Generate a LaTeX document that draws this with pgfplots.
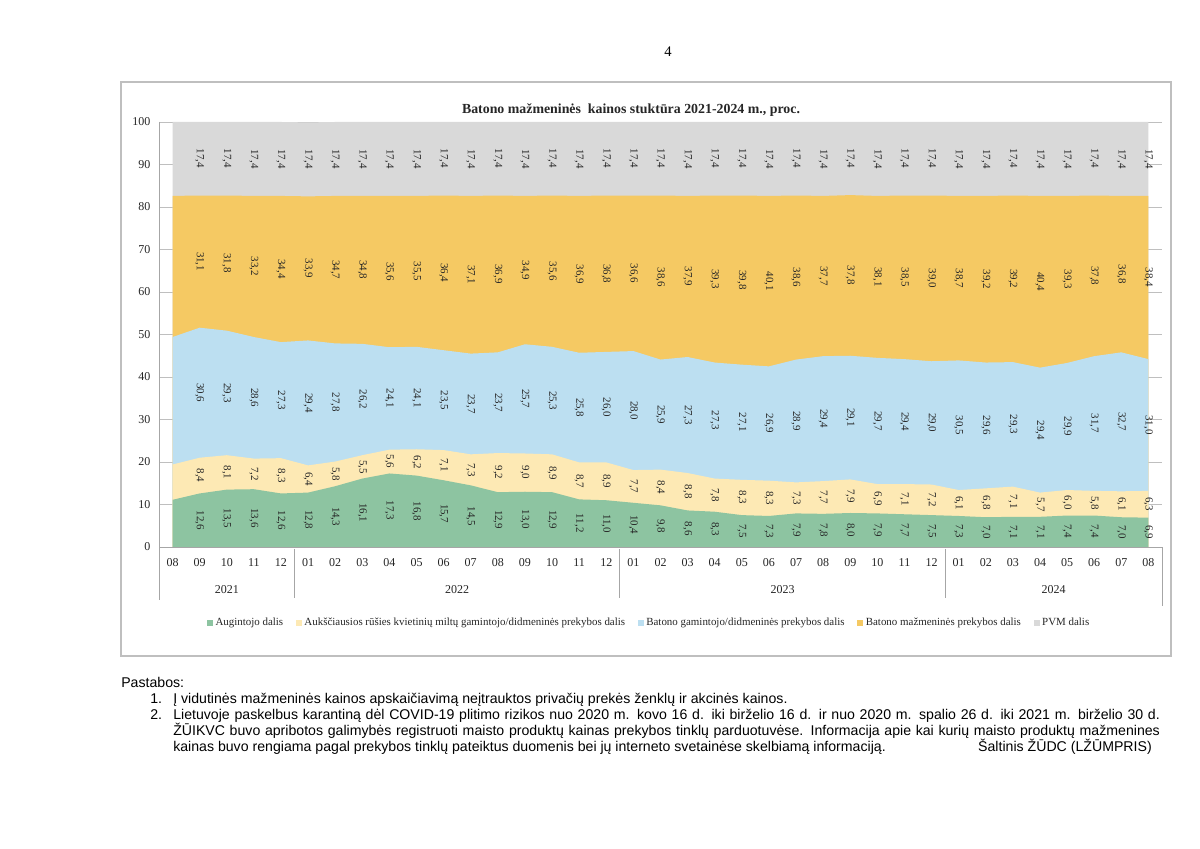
\documentclass[border=0pt]{standalone}
\usepackage{fontspec}
\setmainfont{Liberation Serif}
\newfontfamily\arial{Liberation Sans}
\usepackage{pgfplots}
\pgfplotsset{compat=1.18}
\usepackage{pgfplotstable}

\definecolor{cgreen}{HTML}{8DC4A1}
\definecolor{cyellow}{HTML}{FDE9B4}
\definecolor{cblue}{HTML}{BCDFF1}
\definecolor{corange}{HTML}{F5C963}
\definecolor{cgrey}{HTML}{D9D9D9}
\definecolor{cframe}{HTML}{BFBFBF}
\definecolor{caxis}{HTML}{A6A6A6}
\definecolor{ctext}{HTML}{262626}

% a = augintojo, b = miltai, c = batono gamintojas, d = mazmenine, e = PVM
\pgfplotstableread{
x a b c d e
0 11.1 8.3 30.0 33.2 17.4
1 12.6 8.4 30.6 31.1 17.4
2 13.5 8.1 29.3 31.8 17.4
3 13.6 7.2 28.6 33.2 17.4
4 12.6 8.3 27.3 34.4 17.4
5 12.8 6.4 29.4 33.9 17.4
6 14.3 5.8 27.8 34.7 17.4
7 16.1 5.5 26.2 34.8 17.4
8 17.3 5.6 24.1 35.6 17.4
9 16.8 6.2 24.1 35.5 17.4
10 15.7 7.1 23.5 36.4 17.4
11 14.5 7.3 23.7 37.1 17.4
12 12.9 9.2 23.7 36.9 17.4
13 13.0 9.0 25.7 34.9 17.4
14 12.9 8.9 25.3 35.6 17.4
15 11.2 8.7 25.8 36.9 17.4
16 11.0 8.9 26.0 36.8 17.4
17 10.4 7.7 28.0 36.6 17.4
18 9.8 8.4 25.9 38.6 17.4
19 8.6 8.8 27.3 37.9 17.4
20 8.3 7.8 27.3 39.3 17.4
21 7.5 8.3 27.1 39.8 17.4
22 7.3 8.3 26.9 40.1 17.4
23 7.9 7.3 28.9 38.6 17.4
24 7.8 7.7 29.4 37.7 17.4
25 8.0 7.9 29.1 37.8 17.4
26 7.9 6.9 29.7 38.1 17.4
27 7.7 7.1 29.4 38.5 17.4
28 7.5 7.2 29.0 39.0 17.4
29 7.3 6.1 30.5 38.7 17.4
30 7.0 6.8 29.6 39.2 17.4
31 7.1 7.1 29.3 39.2 17.4
32 7.1 5.7 29.4 40.4 17.4
33 7.4 6.0 29.9 39.3 17.4
34 7.4 5.8 31.7 37.8 17.4
35 7.0 6.1 32.7 36.8 17.4
36 6.9 6.3 31.0 38.4 17.4
}\shares

\newcommand{\notesize}{\fontsize{10.6}{12}\selectfont}

\pgfplotsset{
  lab/.style={draw=none, mark=none, forget plot,
    skip coords between index={0}{1},
    point meta=explicit,
    nodes near coords={\pgfmathprintnumber[fixed,fixed zerofill,precision=1,use comma]{\pgfplotspointmeta}},
    every node near coord/.append style={rotate=-90, anchor=center, inner sep=0pt,
      font=\fontsize{8.2}{9}\selectfont, text=ctext}},
  band/.style={draw=none, forget plot, fill=#1},
}

\begin{document}
\begin{tikzpicture}[x=0.75pt,y=0.75pt]
\fill[white] (0,0) rectangle (1200,849);
\node[font=\fontsize{11}{13}\selectfont] at (668,797) {4};
\draw[cframe, line width=0.8pt] (121,767) rectangle (1171,193);
\node[font=\fontsize{10.4}{12}\selectfont\bfseries, text=ctext] at (631,739)
  {Batono mažmeninės\ \ kainos stuktūra 2021-2024 m., proc.};

\begin{axis}[
  at={(119.25pt,226.5pt)}, anchor=south west,
  scale only axis, width=752.25pt, height=318.75pt,
  xmin=-0.5, xmax=36.5, ymin=0, ymax=100,
  axis line style={draw=none},
  ytick={0,10,...,100},
  xtick={0,...,36},
  xticklabels={08,09,10,11,12,01,02,03,04,05,06,07,08,09,10,11,12,01,02,03,04,05,06,07,08,09,10,11,12,01,02,03,04,05,06,07,08},
  major tick length=0pt,
  ymajorgrids, grid style={draw=cframe, line width=0.6pt},
  tick label style={font=\fontsize{9}{11}\selectfont, text=ctext},
  yticklabel style={xshift=-3pt},
  xticklabel style={anchor=base, yshift=-15pt},
  /pgf/number format/assume math mode=true,
  legend columns=5,
  legend style={at={(0.489,-0.178)}, anchor=center, draw=none, fill=none,
    font=\fontsize{8.2}{9}\selectfont, text=ctext,
    /tikz/every even column/.append style={column sep=7.5pt}},
  legend image code/.code={\fill[#1] (0pt,-2.2pt) rectangle (4.4pt,2.2pt);},
]
\addlegendimage{fill=cgreen, draw=none}
\addlegendentry{Augintojo dalis}
\addlegendimage{fill=cyellow, draw=none}
\addlegendentry{Aukščiausios rūšies kvietinių miltų gamintojo/didmeninės prekybos dalis}
\addlegendimage{fill=cblue, draw=none}
\addlegendentry{Batono gamintojo/didmeninės prekybos dalis}
\addlegendimage{fill=corange, draw=none}
\addlegendentry{Batono mažmeninės prekybos dalis}
\addlegendimage{fill=cgrey, draw=none}
\addlegendentry{PVM dalis}

% bands drawn from the top of the stack downwards (the grey one kept at most 100)
\addplot[band=cgrey] table[x=x, y expr={min(\thisrow{a}+\thisrow{b}+\thisrow{c}+\thisrow{d}+\thisrow{e},100)}] {\shares} \closedcycle;
\addplot[band=corange] table[x=x, y expr=\thisrow{a}+\thisrow{b}+\thisrow{c}+\thisrow{d}] {\shares} \closedcycle;
\addplot[band=cblue] table[x=x, y expr=\thisrow{a}+\thisrow{b}+\thisrow{c}] {\shares} \closedcycle;
\addplot[band=cyellow] table[x=x, y expr=\thisrow{a}+\thisrow{b}] {\shares} \closedcycle;
\addplot[band=cgreen] table[x=x, y=a] {\shares} \closedcycle;

% labels in the middle of each band
\addplot[lab] table[x=x, y expr=\thisrow{a}/2, meta=a] {\shares};
\addplot[lab] table[x=x, y expr=\thisrow{a}+\thisrow{b}/2, meta=b] {\shares};
\addplot[lab] table[x=x, y expr=\thisrow{a}+\thisrow{b}+\thisrow{c}/2, meta=c] {\shares};
\addplot[lab] table[x=x, y expr=\thisrow{a}+\thisrow{b}+\thisrow{c}+\thisrow{d}/2, meta=d] {\shares};
\addplot[lab] table[x=x, y expr=\thisrow{a}+\thisrow{b}+\thisrow{c}+\thisrow{d}+\thisrow{e}/2, meta=e] {\shares};
\end{axis}

% axis lines and year groups
\draw[caxis, line width=0.7pt] (159,727) -- (159,249);
\draw[caxis, line width=0.7pt] (159,302) -- (1162,302) -- (1162,243);
\foreach \sx in {294.5,619.8,945.1}
  \draw[caxis, line width=0.7pt] (\sx,300) -- (\sx,251);
\foreach \yx/\yl in {226.8/2021,457.2/2022,782.5/2023,1053.6/2024}
  \node[font=\fontsize{9}{11}\selectfont, text=ctext] at (\yx,259) {\yl};

% notes under the chart
\begin{scope}[every node/.style={anchor=base west, inner sep=0pt, font=\arial\notesize}]
\node at (121,161) {Pastabos:};
\node at (150,145) {1.};
\node at (173,145) {Į vidutinės mažmeninės kainos apskaičiavimą neįtrauktos privačių prekės ženklų ir akcinės kainos.};
\node at (150,129) {2.};
\node at (173,129) {\makebox[740pt][s]{Lietuvoje paskelbus karantiną dėl COVID-19 plitimo rizikos nuo 2020 m. kovo 16 d. iki birželio 16 d. ir nuo 2020 m. spalio 26 d. iki 2021 m. birželio 30 d.}};
\node at (173,113) {\makebox[740pt][s]{ŽŪIKVC buvo apribotos galimybės registruoti maisto produktų kainas prekybos tinklų parduotuvėse. Informacija apie kai kurių maisto produktų mažmenines}};
\node at (173,97) {kainas buvo rengiama pagal prekybos tinklų pateiktus duomenis bei jų interneto svetainėse skelbiamą informaciją.};
\node[anchor=base east] at (1152,97) {Šaltinis ŽŪDC (LŽŪMPRIS)};
\end{scope}
\end{tikzpicture}
\end{document}
